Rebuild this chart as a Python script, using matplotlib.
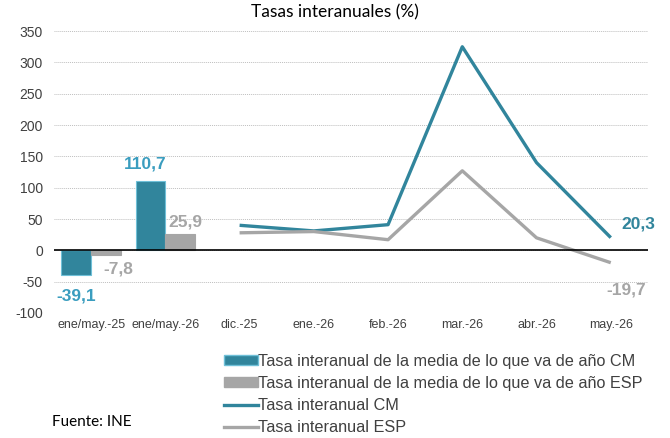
import matplotlib
matplotlib.use("Agg")
import matplotlib.pyplot as plt
import numpy as np
from matplotlib.patches import Patch
from matplotlib.lines import Line2D

categories = ["ene/may.-25", "ene/may.-26", "dic.-25", "ene.-26", "feb.-26", "mar.-26", "abr.-26", "may.-26"]
bar_cm = [-39.1, 110.7]
bar_esp = [-7.8, 25.9]
line_cm = [40, 31, 41, 325, 140, 20.3]
line_esp = [28, 30, 17, 127, 20, -19.7]
yticks = [-100, -50, 0, 50, 100, 150, 200, 250, 300, 350]

TEAL = "#31859C"
TEAL_LBL = "#3A9DBF"
GRAY = "#A6A6A6"
NARROW = ["Liberation Sans Narrow", "Liberation Sans"]

fig = plt.figure(figsize=(6.7, 4.38), dpi=100)
ax = fig.add_axes([0.0806, 0.2854, 0.8864, 0.6436])

x = np.arange(len(categories))
bw = 0.4
ax.bar(x[:2] - bw / 2, bar_cm, bw, color=TEAL, edgecolor="#6FC0D8", linewidth=0.8, zorder=3)
ax.bar(x[:2] + bw / 2, bar_esp, bw, color=GRAY, edgecolor=GRAY, linewidth=0.8, zorder=3)
xl = x[2:]
ax.plot(xl, line_cm, color=TEAL, lw=2.4, zorder=4, solid_capstyle="butt")
ax.plot(xl, line_esp, color=GRAY, lw=2.4, zorder=4, solid_capstyle="butt")

ax.set_xlim(-0.5, len(categories) - 0.5)
ax.set_ylim(-100, 350)
ax.set_yticks(yticks)
ax.set_yticklabels([str(v) for v in yticks], fontsize=10, color="#404040", family="Liberation Sans")
ax.set_xticks(x)
ax.set_xticklabels(categories, fontsize=9, color="#404040", family=NARROW)
ax.tick_params(length=0, pad=4)
ax.tick_params(axis="y", pad=8)
for s in ax.spines.values():
    s.set_visible(False)
ax.grid(axis="y", color="#BFBFBF", linestyle=(0, (1, 1)), linewidth=0.7, zorder=0)
ax.axhline(0, color="black", lw=1.2, zorder=5)

fmt = lambda v: f"{v:.1f}".replace(".", ",")
lbl = dict(fontsize=12.5, fontweight="bold", family="Liberation Sans", ha="center", va="center", zorder=6)
ax.annotate(fmt(bar_cm[0]), (x[0] - bw / 2, bar_cm[0]), xytext=(0, -15), textcoords="offset points", color=TEAL_LBL, **lbl)
ax.annotate(fmt(bar_esp[0]), (x[0] + bw / 2, bar_esp[0]), xytext=(9, -10), textcoords="offset points", color=GRAY, **lbl)
ax.annotate(fmt(bar_cm[1]), (x[1] - bw / 2, bar_cm[1]), xytext=(-4, 12), textcoords="offset points", color=TEAL_LBL, **lbl)
ax.annotate(fmt(bar_esp[1]), (x[1] + bw / 2, bar_esp[1]), xytext=(4, 9), textcoords="offset points", color=GRAY, **lbl)
ax.annotate(fmt(line_cm[-1]), (xl[-1], line_cm[-1]), xytext=(20, 10), textcoords="offset points", color=TEAL, **lbl)
ax.annotate(fmt(line_esp[-1]), (xl[-1], line_esp[-1]), xytext=(11, -20), textcoords="offset points", color=GRAY, **lbl)

fig.text(0.5, 0.972, "Tasas interanuales (%)", ha="center", va="center", fontsize=12.5, family="Lato", color="black")
fig.text(0.078, 0.037, "Fuente: INE", ha="left", va="center", fontsize=11, family="Lato", color="black")

handles = [
    Patch(facecolor=TEAL, edgecolor="#6FC0D8"),
    Patch(facecolor=GRAY, edgecolor=GRAY),
    Line2D([0], [0], color=TEAL, lw=2.4),
    Line2D([0], [0], color=GRAY, lw=2.4),
]
labels = [
    "Tasa interanual de la media de lo que va de año CM",
    "Tasa interanual de la media de lo que va de año ESP",
    "Tasa interanual CM",
    "Tasa interanual ESP",
]
leg = fig.legend(handles, labels, loc="upper left", bbox_to_anchor=(0.334, 0.192), frameon=False,
                 prop={"family": NARROW, "size": 11.7},
                 handlelength=2.1, handleheight=0.55, handletextpad=0.0, labelspacing=0.43,
                 borderaxespad=0, borderpad=0)
for t in leg.get_texts():
    t.set_color("#404040")

fig.savefig("out.png", dpi=100)
